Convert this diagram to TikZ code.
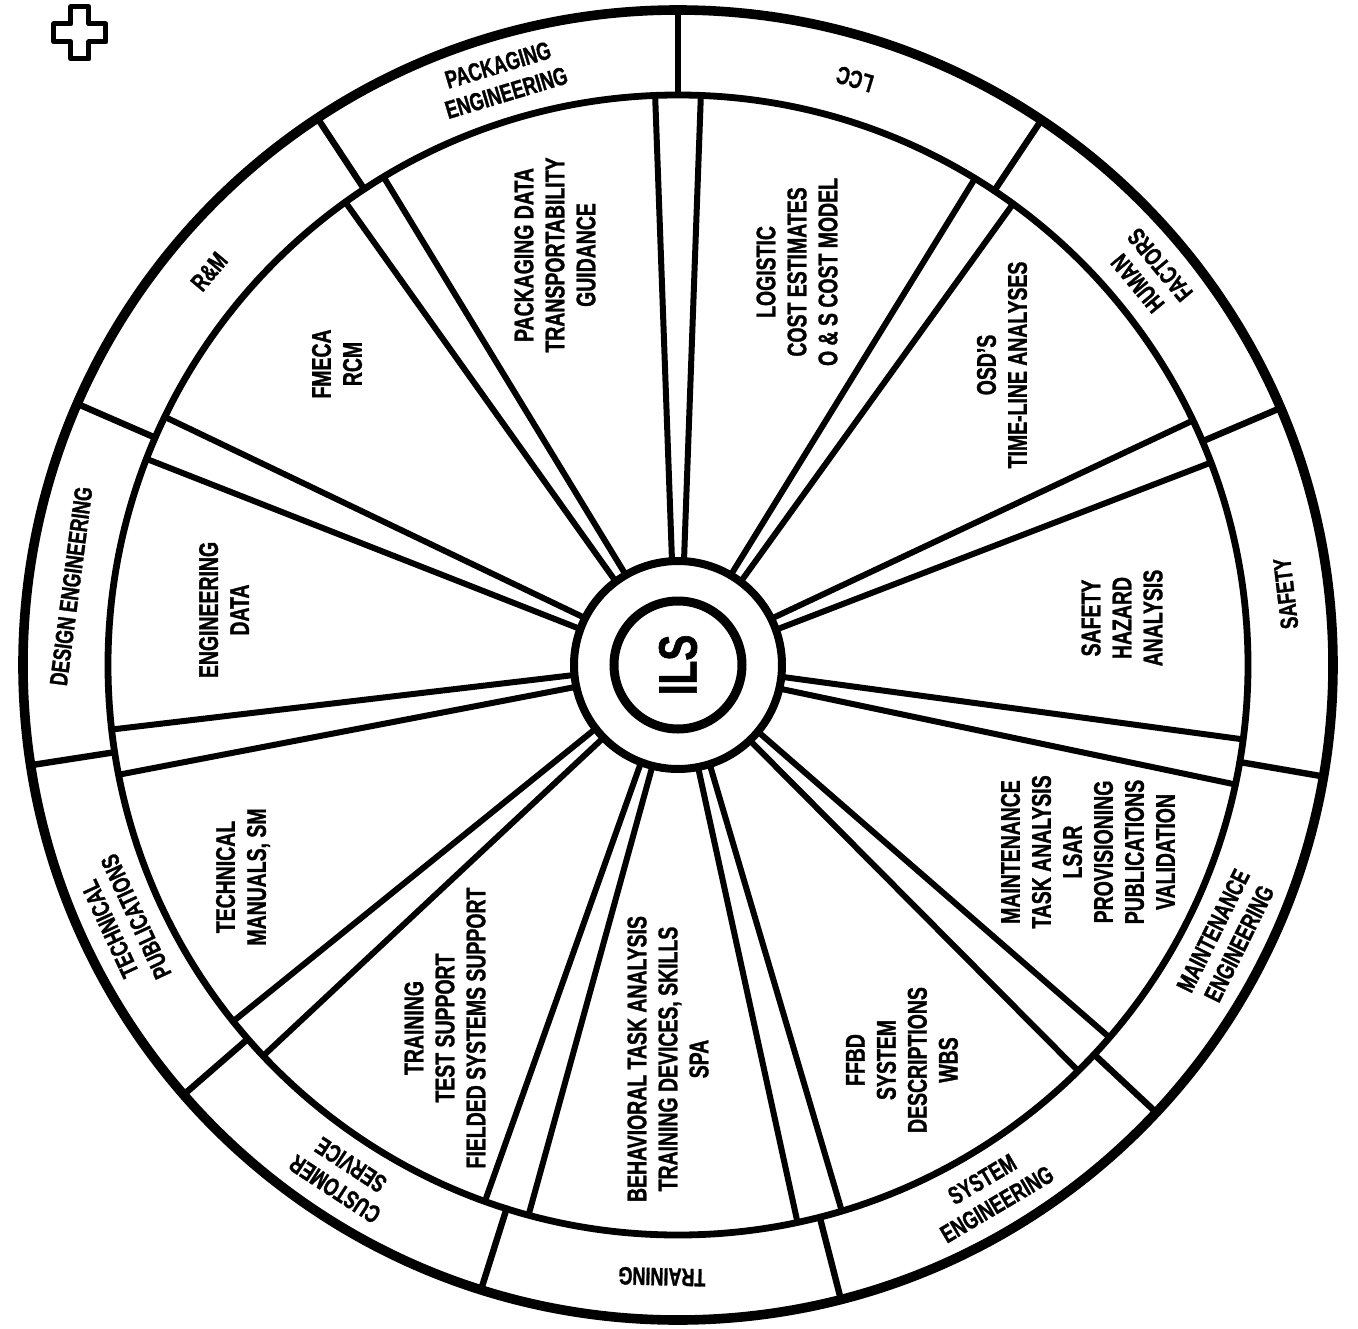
\documentclass[tikz,border=0pt]{standalone}
\usepackage{fontspec}
\setmainfont{Liberation Sans}[FakeStretch=0.72,BoldFeatures={FakeBold=1.2}]
\usepackage{tikz}

\tikzset{
  wedgetext/.style={font=\bfseries\fontsize{13.5}{15.5}\selectfont,align=center,rotate=90,inner sep=0pt},
  rimtext/.style={font=\bfseries\fontsize{12.5}{14.5}\selectfont,align=center,inner sep=0pt},
  spoke/.style={line width=3pt},
}

\begin{document}
\begin{tikzpicture}[x=0.5pt,y=0.5pt,line cap=round]
  \useasboundingbox (-678,-663) rectangle (680,665);
  % rim, ring and hub
  \draw[line width=4.8pt] (0,0) circle (655);
  \draw[line width=3.4pt] (0,0) circle (570);
  \draw[line width=4pt] (0,0) circle (104);
  \draw[line width=4.5pt] (0,0) circle (64);
  \foreach \a in {90,56.3,23.1,-9.8,-43.1,-75.6,-107.5,-139,-171.2,156.5,123.4}{
    \draw[line width=3.2pt] (\a:570) -- (\a:655);
    \draw[spoke] (\a+3.3:104) -- (\a+2.3:570);
    \draw[spoke] (\a-3.3:104) -- (\a-2.3:570);
  }
  \node[font=\bfseries\fontsize{27}{30}\selectfont,rotate=90,inner sep=0pt] (ils) at (0,0) {ILS};
  % labels of the rim
  \foreach \a/\txt [count=\i] in {106.7/{PACKAGING\\ENGINEERING}, 73.2/LCC, 39.7/{HUMAN\\FACTORS},
      6.7/SAFETY, -26.4/{MAINTENANCE\\ENGINEERING}, -59.4/{SYSTEM\\ENGINEERING}, -91.5/TRAINING,
      -123.2/{CUSTOMER\\SERVICE}, -155.1/{TECHNICAL\\PUBLICATIONS}, 172.6/{DESIGN ENGINEERING}, 140/{R\&M}}{
    \pgfmathsetmacro\rot{cos(\a)>0 ? \a+90 : \a-90}
    \node[rimtext,rotate=\rot] (rim\i) at (\a:612) {\txt};
  }
  % texts of the wedges
  \node[wedgetext] (pkgdata) at (-123,410) {PACKAGING DATA\\TRANSPORTABILITY\\GUIDANCE};
  \node[wedgetext] (logistic) at (119,393) {LOGISTIC\\COST ESTIMATES\\O \& S COST MODEL};
  \node[wedgetext] (osd) at (324,300) {OSD'S\\TIME-LINE ANALYSES};
  \node[wedgetext] (hazard) at (444,47) {SAFETY\\HAZARD\\ANALYSIS};
  \node[wedgetext] (mta) at (410,-187) {MAINTENANCE\\TASK ANALYSIS\\LSAR\\PROVISIONING\\PUBLICATIONS\\VALIDATION};
  \node[wedgetext] (ffbd) at (224,-395) {FFBD\\SYSTEM\\DESCRIPTIONS\\WBS};
  \node[wedgetext] (bta) at (-10,-394) {BEHAVIORAL TASK ANALYSIS\\TRAINING DEVICES, SKILLS\\SPA};
  \node[wedgetext] (tts) at (-233,-363) {TRAINING\\TEST SUPPORT\\FIELDED SYSTEMS SUPPORT};
  \node[wedgetext] (techman) at (-435,-212) {TECHNICAL\\MANUALS, SM};
  \node[wedgetext] (engdata) at (-454,55) {ENGINEERING\\DATA};
  \node[wedgetext] (fmeca) at (-341,301) {FMECA\\RCM};
  % mark in the corner
  \draw[line width=2.5pt,line join=round] (-607,658) -- ++(18,0) -- ++(0,-17) -- ++(17,0) -- ++(0,-18)
    -- ++(-17,0) -- ++(0,-17) -- ++(-18,0) -- ++(0,17) -- ++(-17,0) -- ++(0,18) -- ++(17,0) -- cycle;
\end{tikzpicture}
\end{document}
